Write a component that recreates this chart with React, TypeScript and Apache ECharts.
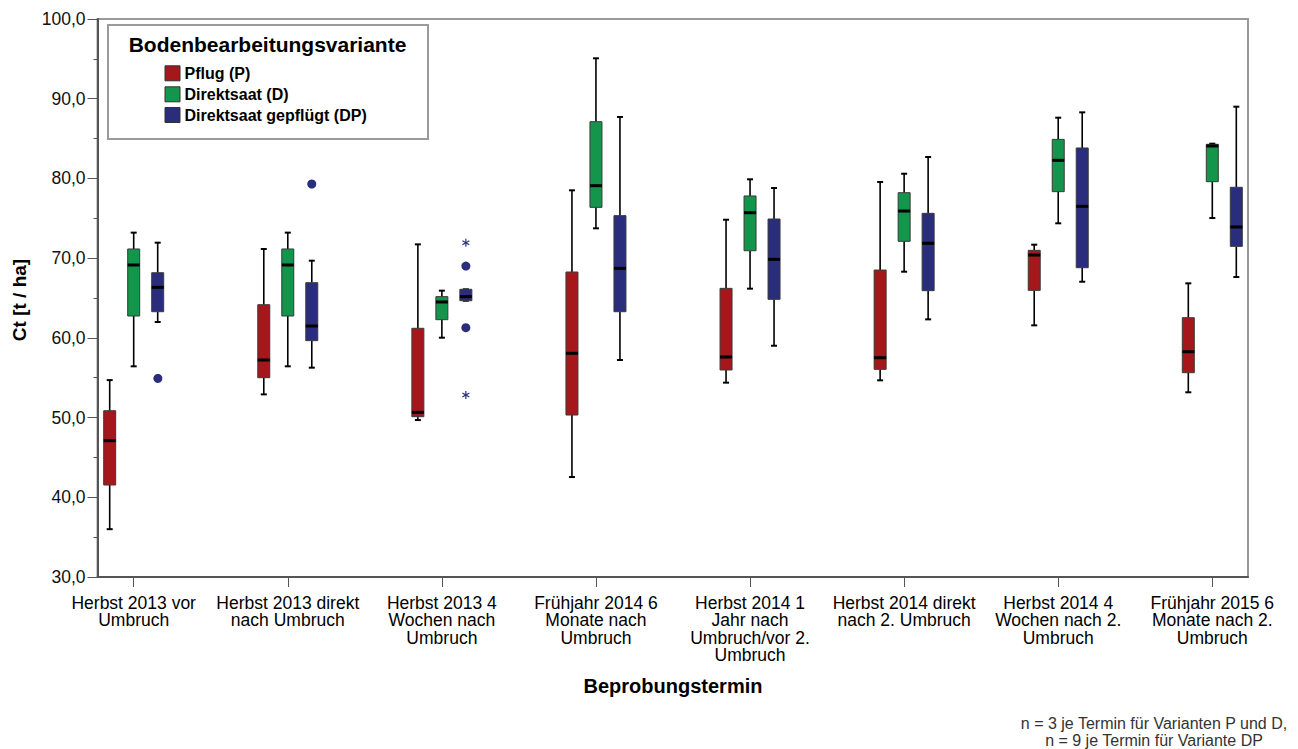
import React, { useEffect, useRef } from "react";
import * as echarts from "echarts";

// ---- data ----
const categories = [
  "Herbst 2013 vor\nUmbruch",
  "Herbst 2013 direkt\nnach Umbruch",
  "Herbst 2013 4\nWochen nach\nUmbruch",
  "Frühjahr 2014 6\nMonate nach\nUmbruch",
  "Herbst 2014 1\nJahr nach\nUmbruch/vor 2.\nUmbruch",
  "Herbst 2014 direkt\nnach 2. Umbruch",
  "Herbst 2014 4\nWochen nach 2.\nUmbruch",
  "Frühjahr 2015 6\nMonate nach 2.\nUmbruch",
];

const variantNames = ["Pflug (P)", "Direktsaat (D)", "Direktsaat gepflügt (DP)"];
const variantColors = ["#a6171c", "#13954b", "#2a2d7c"];

// [low whisker, Q1, median, Q3, high whisker]
const pflugP = [
  [36.0, 41.54, 47.1, 50.86, 54.7],
  [52.91, 55.0, 57.22, 64.16, 71.15],
  [49.69, 50.11, 50.66, 61.2, 71.73],
  [42.54, 50.32, 58.06, 68.26, 78.51],
  [54.38, 55.97, 57.6, 66.21, 74.82],
  [54.67, 56.05, 57.51, 68.51, 79.55],
  [61.57, 65.96, 70.39, 70.98, 71.69],
  [53.17, 55.63, 58.26, 62.53, 66.84],
];

const direktD = [
  [56.43, 62.74, 69.14, 71.15, 73.2],
  [56.43, 62.74, 69.14, 71.15, 73.2],
  [60.02, 62.28, 64.5, 65.17, 65.92],
  [73.74, 76.37, 79.09, 87.12, 95.07],
  [66.17, 70.93, 75.7, 77.8, 79.89],
  [68.3, 72.11, 75.91, 78.21, 80.59],
  [74.37, 78.34, 82.27, 84.9, 87.62],
  [75.03, 79.59, 84.07, 84.28, 84.36],
];

const gepfluegtDP = [
  [61.99, 63.28, 66.34, 68.17, 71.94],
  [56.26, 59.65, 61.49, 66.92, 69.68],
  [64.66, 64.66, 65.17, 66.09, 66.09],
  [57.22, 63.28, 68.72, 75.33, 87.71],
  [59.01, 64.83, 69.85, 74.91, 78.8],
  [62.32, 65.92, 71.86, 75.62, 82.69],
  [67.04, 68.8, 76.5, 83.82, 88.29],
  [67.63, 71.48, 73.91, 78.89, 89.0],
];

// [category index, value, kind (0 = circle outlier, 1 = extreme/star)]
const outliersDP = [
  [0, 55.05, 0],
  [1, 79.3, 0],
  [2, 71.94, 1],
  [2, 69.01, 0],
  [2, 61.28, 0],
  [2, 52.83, 1],
];

const yMin = 30;
const yMax = 100;
const yInterval = 10;

const FONT = '"Liberation Sans", Arial, Helvetica, sans-serif';

export default function App() {
  const ref = useRef<HTMLDivElement>(null);

  useEffect(() => {
    const chart = echarts.init(ref.current!, null, { renderer: "svg" });

    const offsets = [-24, 0, 24];
    const halfW = 6;
    const capHalf = 3;

    const boxRender = (offset: number, color: string) => (params: any, api: any) => {
      const idx = api.value(0);
      const lo = api.coord([idx, api.value(1)]);
      const q1 = api.coord([idx, api.value(2)]);
      const md = api.coord([idx, api.value(3)]);
      const q3 = api.coord([idx, api.value(4)]);
      const hi = api.coord([idx, api.value(5)]);
      const x = lo[0] + offset;
      const wStyle = { stroke: "#000", lineWidth: 1.6 };
      return {
        type: "group",
        children: [
          { type: "line", shape: { x1: x, y1: hi[1], x2: x, y2: q3[1] }, style: wStyle },
          { type: "line", shape: { x1: x, y1: q1[1], x2: x, y2: lo[1] }, style: wStyle },
          { type: "line", shape: { x1: x - capHalf, y1: hi[1], x2: x + capHalf, y2: hi[1] }, style: { stroke: "#000", lineWidth: 2 } },
          { type: "line", shape: { x1: x - capHalf, y1: lo[1], x2: x + capHalf, y2: lo[1] }, style: { stroke: "#000", lineWidth: 2 } },
          {
            type: "rect",
            shape: { x: x - halfW, y: q3[1], width: halfW * 2, height: q1[1] - q3[1] },
            style: { fill: color, stroke: "#3a3a3a", lineWidth: 1 },
          },
          { type: "line", shape: { x1: x - halfW, y1: md[1], x2: x + halfW, y2: md[1] }, style: { stroke: "#000", lineWidth: 3 } },
        ],
      };
    };

    const outlierRender = (offset: number, color: string) => (params: any, api: any) => {
      const idx = api.value(0);
      const p = api.coord([idx, api.value(1)]);
      const kind = api.value(2);
      const x = p[0] + offset;
      const y = p[1];
      if (kind === 0) {
        return { type: "circle", shape: { cx: x, cy: y, r: 4.5 }, style: { fill: color } };
      }
      const r = 4;
      const s = { stroke: color, lineWidth: 1.2 };
      const c = Math.cos(Math.PI / 6) * r;
      const sn = Math.sin(Math.PI / 6) * r;
      return {
        type: "group",
        children: [
          { type: "line", shape: { x1: x, y1: y - r, x2: x, y2: y + r }, style: s },
          { type: "line", shape: { x1: x - c, y1: y - sn, x2: x + c, y2: y + sn }, style: s },
          { type: "line", shape: { x1: x - c, y1: y + sn, x2: x + c, y2: y - sn }, style: s },
        ],
      };
    };

    const seriesData = [pflugP, direktD, gepfluegtDP];

    const boxSeries = seriesData.map((arr, k) => ({
      type: "custom",
      name: variantNames[k],
      xAxisIndex: 1,
      yAxisIndex: 1,
      renderItem: boxRender(offsets[k], variantColors[k]),
      encode: { x: 0, y: [1, 2, 3, 4, 5] },
      data: arr.map((v, i) => [i, ...v]),
      z: 5,
    }));

    const legendRowsY = [73.3, 94.3, 115];
    const legendGraphics: any[] = [
      {
        type: "rect",
        shape: { x: 108, y: 25, width: 320, height: 114 },
        style: { fill: "#fff", stroke: "#9a9a9a", lineWidth: 2 },
        z: 10,
      },
      {
        type: "text",
        x: 267.5,
        y: 44,
        style: {
          text: "Bodenbearbeitungsvariante",
          font: `bold 21px ${FONT}`,
          fill: "#000",
          align: "center",
          verticalAlign: "middle",
        },
        z: 11,
      },
    ];
    variantNames.forEach((name, k) => {
      legendGraphics.push({
        type: "rect",
        shape: { x: 165, y: legendRowsY[k] - 7.5, width: 15, height: 15 },
        style: { fill: variantColors[k], stroke: "#333", lineWidth: 1 },
        z: 11,
      });
      legendGraphics.push({
        type: "text",
        x: 184.5,
        y: legendRowsY[k],
        style: {
          text: name,
          font: `bold 16px ${FONT}`,
          fill: "#000",
          align: "left",
          verticalAlign: "middle",
        },
        z: 11,
      });
    });

    const option: any = {
      animation: false,
      backgroundColor: "#fff",
      textStyle: { fontFamily: FONT },
      grid: [
        {
          left: 97.5,
          right: 50,
          top: 19,
          bottom: 172,
          show: true,
          borderColor: "#9a9a9a",
          borderWidth: 2,
          backgroundColor: "transparent",
        },
        { left: 56.65, right: 8.65, top: 19, bottom: 172 },
      ],
      xAxis: [
        {
          type: "value",
          gridIndex: 0,
          min: 0,
          max: 1,
          axisLine: { show: true, lineStyle: { color: "#555", width: 2 } },
          axisTick: { show: false },
          axisLabel: { show: false },
          splitLine: { show: false },
        },
        {
          type: "category",
          gridIndex: 1,
          data: categories,
          boundaryGap: true,
          axisLine: { show: false },
          axisTick: { show: true, alignWithLabel: true, length: 10, lineStyle: { color: "#555", width: 1 } },
          axisLabel: {
            show: true,
            interval: 0,
            margin: 17,
            color: "#000",
            fontSize: 17.5,
            lineHeight: 17.5,
            fontFamily: FONT,
            verticalAlign: "top",
          },
          splitLine: { show: false },
        },
      ],
      yAxis: [
        {
          type: "value",
          gridIndex: 0,
          min: yMin,
          max: yMax,
          interval: yInterval,
          axisLine: { show: true, lineStyle: { color: "#555", width: 2 } },
          axisTick: { show: true, length: 10, lineStyle: { color: "#555", width: 1 } },
          minorTick: { show: true, splitNumber: 2, length: 4, lineStyle: { color: "#555", width: 1 } },
          axisLabel: {
            margin: 12,
            color: "#111",
            fontSize: 17.5,
            fontFamily: FONT,
            formatter: (v: number) => v.toFixed(1).replace(".", ","),
          },
          splitLine: { show: false },
        },
        {
          type: "value",
          gridIndex: 1,
          min: yMin,
          max: yMax,
          show: false,
          splitLine: { show: false },
        },
      ],
      series: [
        ...boxSeries,
        {
          type: "custom",
          name: "Ausreißer DP",
          xAxisIndex: 1,
          yAxisIndex: 1,
          renderItem: outlierRender(offsets[2], variantColors[2]),
          encode: { x: 0, y: 1 },
          data: outliersDP,
          z: 6,
        },
      ],
      graphic: [
        ...legendGraphics,
        {
          type: "text",
          x: 19,
          y: 300,
          rotation: Math.PI / 2,
          style: {
            text: "Ct [t / ha]",
            font: `bold 19px ${FONT}`,
            fill: "#000",
            align: "center",
            verticalAlign: "middle",
          },
        },
        {
          type: "text",
          x: 673,
          y: 686,
          style: {
            text: "Beprobungstermin",
            font: `bold 20px ${FONT}`,
            fill: "#000",
            align: "center",
            verticalAlign: "middle",
          },
        },
        {
          type: "text",
          x: 1154,
          y: 732,
          style: {
            text: "n = 3 je Termin für Varianten P und D,\nn = 9 je Termin für Variante DP",
            font: `16px ${FONT}`,
            lineHeight: 16.5,
            fill: "#333",
            align: "center",
            verticalAlign: "middle",
          },
        },
      ],
    };

    chart.setOption(option);
    return () => chart.dispose();
  }, []);

  return (
    <div
      ref={ref}
      style={{ position: "fixed", left: 0, top: 0, width: 1298, height: 749, background: "#fff" }}
    />
  );
}
